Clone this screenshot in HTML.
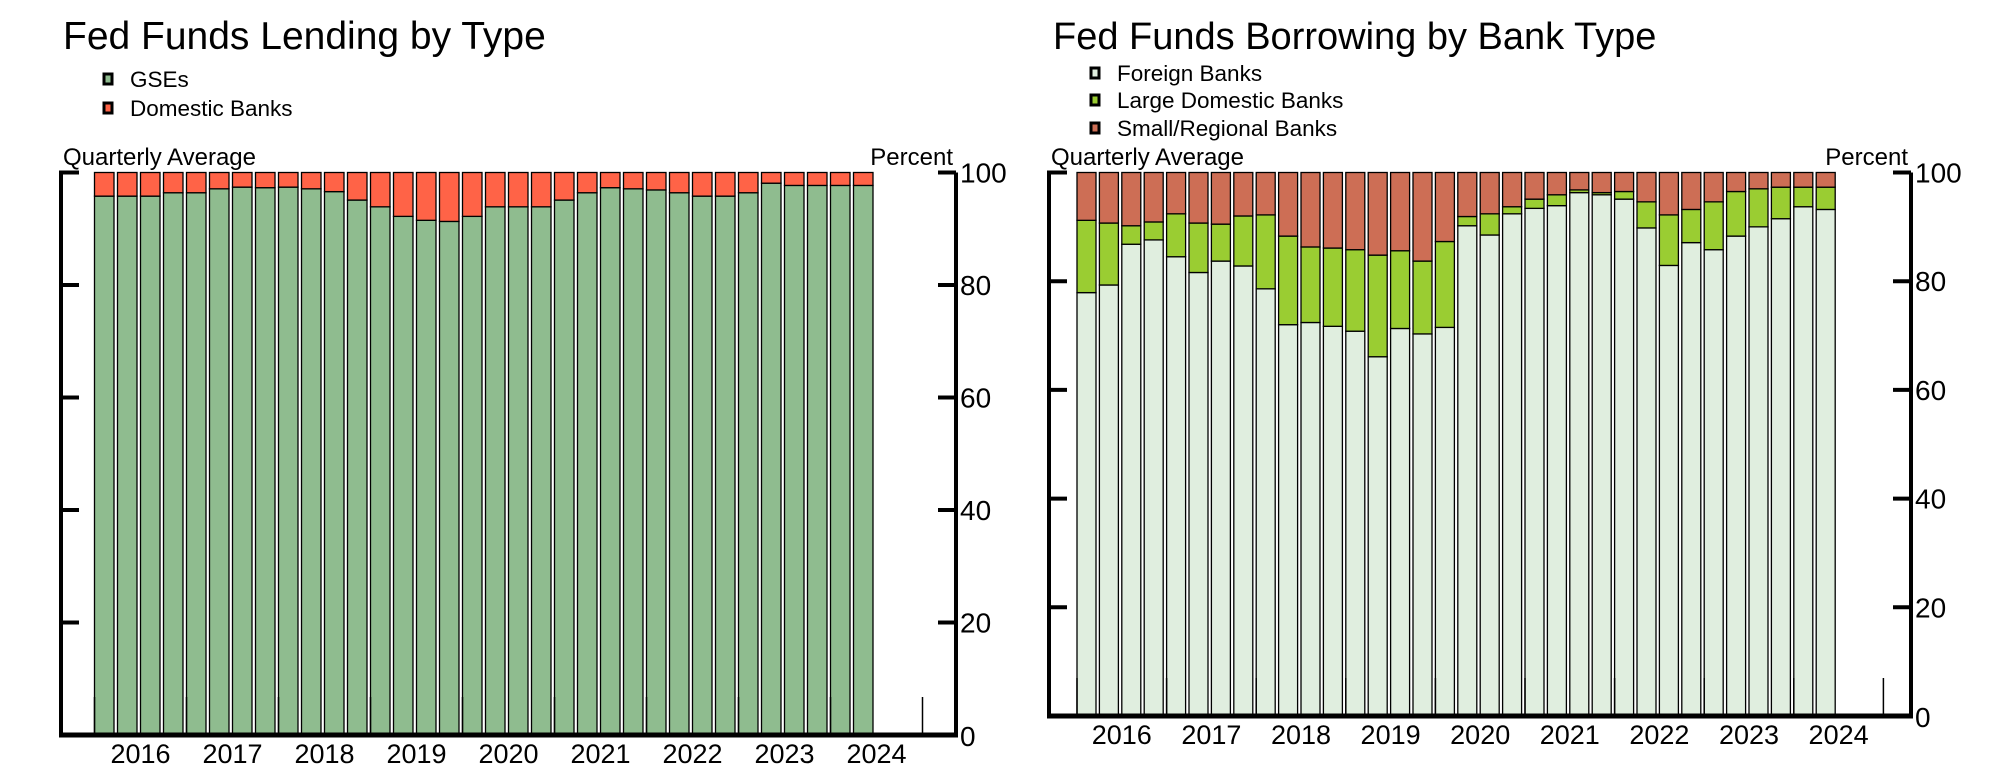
<!DOCTYPE html>
<html><head><meta charset="utf-8">
<style>
html,body{margin:0;padding:0;background:#fff;}
svg{display:block;font-family:"Liberation Sans Narrow","Liberation Sans",sans-serif;}
</style></head>
<body>
<svg id="chart" width="1993" height="779" viewBox="0 0 1993 779" xmlns="http://www.w3.org/2000/svg"></svg>
<script>
const years = ["2016","2017","2018","2019","2020","2021","2022","2023","2024"];
const yTicks = [0,20,40,60,80,100];
const gseShare = [95.8,95.8,95.8,96.4,96.4,97.1,97.4,97.3,97.4,97.1,96.6,95.1,93.9,92.2,91.5,91.3,92.2,93.9,93.9,93.9,95.1,96.4,97.3,97.1,96.9,96.4,95.8,95.8,96.4,98.1,97.7,97.7,97.7,97.7];
const foreignShare = [77.9,79.3,86.8,87.6,84.5,81.6,83.7,82.8,78.6,72.0,72.4,71.7,70.8,66.1,71.3,70.3,71.5,90.2,88.5,92.4,93.4,93.9,96.3,95.9,95.1,89.8,82.9,87.1,85.8,88.3,90.0,91.5,93.7,93.2];
const largeTop = [91.2,90.7,90.2,90.9,92.4,90.7,90.5,92.0,92.2,88.3,86.3,86.1,85.8,84.8,85.6,83.7,87.3,91.9,92.4,93.7,95.1,95.9,96.8,96.3,96.5,94.6,92.2,93.2,94.6,96.5,97.0,97.3,97.3,97.3];
const largeShare = largeTop.map((t,i)=>t-foreignShare[i]);
const smallShare = largeTop.map(t=>100-t);
const domesticShare = gseShare.map(g=>100-g);

const NS="http://www.w3.org/2000/svg";
const svg=document.getElementById('chart');
function mk(tag,attrs,parent,text){
  const e=document.createElementNS(NS,tag);
  for(const k in attrs)e.setAttribute(k,attrs[k]);
  if(text!==undefined)e.textContent=text;
  (parent||svg).appendChild(e);return e;
}

function drawChart(cfg){
  const g=mk('g',{});
  
  
  const yS=v=>cfg.bottom-(v/100)*(cfg.bottom-cfg.top);
  const xS=i=>cfg.barStart+i*cfg.q;
  const t=mk('text',{x:cfg.titleX,y:49,'font-size':cfg.titleSize,'font-family':'Liberation Sans, sans-serif',fill:'#000'},g,cfg.title);
  
  
  cfg.legend.forEach((L,i)=>{
    const ly=cfg.legendY[i];
    const lg=mk('g',{},g);
    
    
    mk('rect',{x:cfg.legX-4,y:ly-5,width:8,height:10,fill:L.color,stroke:'#000','stroke-width':3},lg);
    mk('text',{x:cfg.legX+22,y:ly+8,'font-size':22.5,'font-family':'Liberation Sans, sans-serif'},lg,L.label);
  });
  const qa=mk('text',{x:cfg.left+2,y:165,'font-size':24},g,'Quarterly Average');
  
  
  const pc=mk('text',{x:cfg.right-3,y:165,'font-size':24,'text-anchor':'end'},g,'Percent');
  
  
  const n=cfg.series[0].values.length;
  for(let i=0;i<n;i++){
    let acc=0;
    cfg.series.forEach(s=>{
      const v=s.values[i];
      const r=mk('rect',{x:xS(i),y:yS(acc+v),width:cfg.bw,height:yS(acc)-yS(acc+v),fill:s.color,stroke:'#000','stroke-width':1.3},g);
      
      
      acc+=v;
    });
  }
  mk('line',{x1:cfg.left,y1:cfg.top-2,x2:cfg.left,y2:cfg.bottom+2,stroke:'#000','stroke-width':4},g);
  mk('line',{x1:cfg.left-2,y1:cfg.bottom,x2:cfg.right+2,y2:cfg.bottom,stroke:'#000','stroke-width':5},g);
  yTicks.forEach(v=>{
    const y=yS(v);
    if(v>0){
      mk('line',{x1:cfg.left,y1:y,x2:cfg.left+18,y2:y,stroke:'#000','stroke-width':4},g);
      mk('line',{x1:cfg.right-18,y1:y,x2:cfg.right,y2:y,stroke:'#000','stroke-width':4},g);
    }
    const tl=mk('text',{x:cfg.right+4,y:y+(v===0?11:10),'font-size':28},g,String(v));
    
    
  });
  mk('line',{x1:cfg.right,y1:cfg.top,x2:cfg.right,y2:cfg.bottom,stroke:'#000','stroke-width':4},g);
  for(let k=0;k<=years.length;k++){
    const x=xS(k*4);
    mk('line',{x1:x,y1:cfg.bottom,x2:x,y2:cfg.bottom-38,stroke:'#000','stroke-width':1.5},g);
    if(k<years.length){
      const yl=mk('text',{x:x+cfg.q*2,y:cfg.bottom+cfg.labelOff,'font-size':27,'text-anchor':'middle'},g,years[k]);
      
      
    }
  }
}

drawChart({name:'lending-chart',title:'Fed Funds Lending by Type',titleX:63,titleSize:39,
  left:61,right:956,top:172.5,bottom:735,barStart:94.5,q:23,bw:19.5,labelOff:28,
  legX:108,legendY:[79,108],
  legend:[{label:'GSEs',color:'#8fbc8f'},{label:'Domestic Banks',color:'#ff6347'}],
  series:[{values:gseShare,color:'#8fbc8f'},{values:domesticShare,color:'#ff6347'}]});

drawChart({name:'borrowing-chart',title:'Fed Funds Borrowing by Bank Type',titleX:1053,titleSize:38,
  left:1049,right:1911,top:172.5,bottom:716,barStart:1077,q:22.4,bw:19,labelOff:28,
  legX:1095,legendY:[73,100,128],
  legend:[{label:'Foreign Banks',color:'#e0eedf'},{label:'Large Domestic Banks',color:'#9acd32'},{label:'Small/Regional Banks',color:'#cd6e55'}],
  series:[{values:foreignShare,color:'#e0eedf'},{values:largeShare,color:'#9acd32'},{values:smallShare,color:'#cd6e55'}]});
</script>
</body></html>
